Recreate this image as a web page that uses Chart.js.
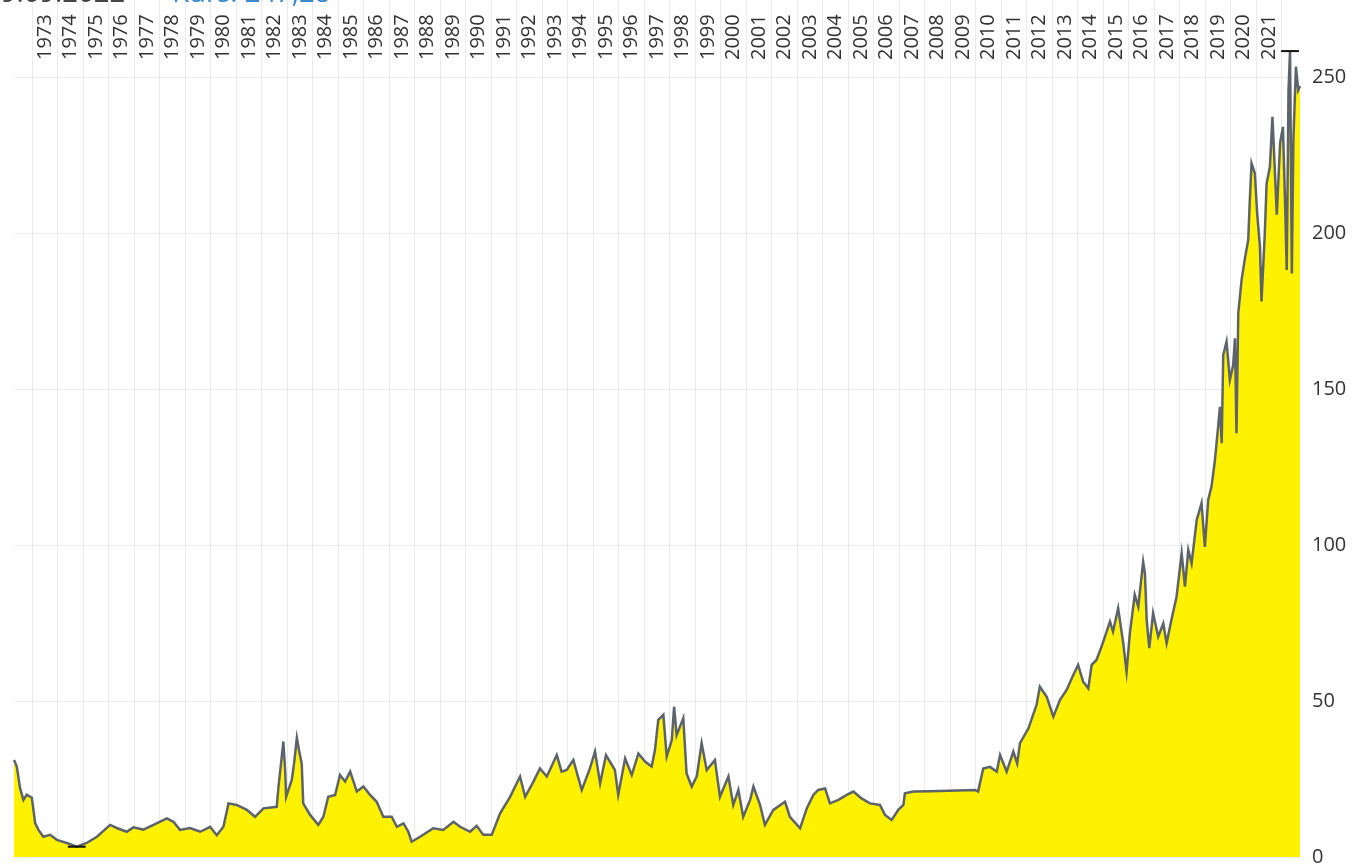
<!DOCTYPE html>
<html>
<head>
<meta charset="utf-8">
<script src="https://cdn.jsdelivr.net/npm/chart.js@4.4.0/dist/chart.umd.min.js"></script>
<style>
  html, body { margin: 0; padding: 0; background: #fff; overflow: hidden; }
  #wrap { position: relative; width: 1353px; height: 864px; overflow: hidden; }
  canvas { display: block; }
  #head { position: absolute; left: -15px; top: -22px; font: 27.5px/28px "Open Sans", sans-serif; color: #444; white-space: nowrap; }
  #head span { color: #3b8ad0; margin-left: 47px; }
</style>
</head>
<body>
<div id="wrap">
  <canvas id="chart" width="1353" height="864"></canvas>
  <div id="head">19.09.2022<span>Kurs: 247,28</span></div>
</div>
<script>
// decimal years
const years = [
  1972.29, 1972.40, 1972.53, 1972.66, 1972.79, 1972.99, 1973.12, 1973.25, 1973.44, 1973.71,
  1973.97, 1974.36, 1974.75, 1975.14, 1975.54, 1976.06, 1976.32, 1976.71, 1976.97, 1977.36,
  1977.76, 1978.28, 1978.54, 1978.80, 1979.19, 1979.59, 1979.98, 1980.24, 1980.50, 1980.70,
  1981.02, 1981.42, 1981.74, 1982.07, 1982.59, 1982.66, 1982.76, 1982.85, 1982.92, 1982.96,
  1983.18, 1983.27, 1983.38, 1983.47, 1983.57, 1983.63, 1983.90, 1984.22, 1984.42, 1984.61,
  1984.88, 1985.07, 1985.27, 1985.47, 1985.73, 1985.99, 1986.25, 1986.51, 1986.77, 1987.10,
  1987.30, 1987.56, 1987.75, 1987.88, 1988.21, 1988.73, 1989.12, 1989.52, 1989.78, 1990.17,
  1990.43, 1990.69, 1991.02, 1991.35, 1991.74, 1992.13, 1992.33, 1992.65, 1992.91, 1993.18,
  1993.57, 1993.76, 1993.96, 1994.22, 1994.55, 1994.87, 1995.07, 1995.27, 1995.50, 1995.85,
  1995.98, 1996.25, 1996.51, 1996.77, 1997.03, 1997.29, 1997.42, 1997.55, 1997.75, 1997.88,
  1998.08, 1998.17, 1998.27, 1998.53, 1998.66, 1998.86, 1999.06, 1999.25, 1999.45, 1999.77,
  1999.97, 2000.30, 2000.49, 2000.69, 2000.88, 2001.15, 2001.28, 2001.54, 2001.73, 2002.06,
  2002.52, 2002.71, 2003.11, 2003.37, 2003.63, 2003.82, 2004.09, 2004.28, 2004.61, 2004.94,
  2005.20, 2005.52, 2005.85, 2006.24, 2006.44, 2006.70, 2006.96, 2007.16, 2007.22, 2007.55,
  2008.20, 2009.97, 2010.09, 2010.29, 2010.55, 2010.82, 2010.95, 2011.21, 2011.47, 2011.62,
  2011.73, 2012.06, 2012.38, 2012.51, 2012.78, 2013.04, 2013.30, 2013.56, 2013.82, 2014.01,
  2014.21, 2014.41, 2014.54, 2014.73, 2014.93, 2015.26, 2015.38, 2015.58, 2015.78, 2015.91,
  2016.04, 2016.23, 2016.37, 2016.56, 2016.63, 2016.70, 2016.80, 2016.95, 2017.15, 2017.35,
  2017.48, 2017.68, 2017.87, 2018.07, 2018.20, 2018.33, 2018.46, 2018.66, 2018.85, 2018.98,
  2019.11, 2019.24, 2019.37, 2019.50, 2019.57, 2019.64, 2019.70, 2019.83, 2019.96, 2020.09,
  2020.16, 2020.22, 2020.29, 2020.42, 2020.55, 2020.68, 2020.74, 2020.81, 2020.94, 2021.03,
  2021.14, 2021.20, 2021.33, 2021.40, 2021.53, 2021.63, 2021.74, 2021.80, 2021.93, 2022.04,
  2022.13, 2022.19, 2022.26, 2022.32, 2022.39, 2022.45, 2022.55, 2022.64, 2022.71
];

const prices = [
  31.1, 29.0, 22.0, 18.3, 20.0, 19.0, 10.9, 8.7, 6.5, 7.1,
  5.5, 4.5, 3.3, 4.5, 6.5, 10.3, 9.3, 8.1, 9.5, 8.8,
  10.3, 12.4, 11.3, 8.7, 9.3, 8.1, 9.7, 7.0, 9.7, 17.2,
  16.7, 15.1, 12.9, 15.6, 16.1, 22.6, 30.0, 37.0, 28.0, 19.3,
  24.7, 30.0, 38.2, 34.0, 30.0, 17.2, 13.5, 10.3, 12.9, 19.3,
  19.9, 26.3, 24.2, 27.4, 21.0, 22.6, 19.9, 17.7, 12.9, 12.9,
  9.7, 10.8, 8.1, 4.9, 6.5, 9.2, 8.7, 11.3, 9.7, 8.1,
  10.0, 7.1, 7.1, 14.0, 19.3, 25.8, 19.3, 24.1, 28.4, 25.8,
  32.7, 27.4, 27.9, 31.1, 21.5, 28.4, 33.8, 23.6, 32.7, 27.9,
  19.9, 31.6, 26.3, 33.2, 30.6, 29.0, 34.3, 44.0, 45.6, 32.2,
  37.5, 48.2, 39.1, 44.5, 26.8, 22.6, 25.9, 36.5, 27.9, 31.1,
  19.3, 25.8, 16.7, 21.5, 12.9, 18.3, 22.6, 16.7, 10.3, 15.1,
  17.7, 12.9, 9.2, 15.6, 19.9, 21.5, 22.0, 17.2, 18.3, 19.9,
  21.0, 18.8, 17.2, 16.7, 13.5, 11.9, 15.1, 16.7, 20.4, 21.0,
  21.1, 21.5, 21.0, 28.4, 28.9, 27.4, 32.7, 27.4, 33.8, 30.0,
  36.5, 41.2, 48.8, 54.6, 51.4, 45.0, 50.4, 53.6, 58.4, 61.6,
  56.2, 54.1, 61.6, 63.2, 67.5, 75.5, 72.3, 79.8, 68.6, 59.4,
  71.8, 84.1, 80.3, 94.7, 91.0, 76.0, 67.0, 78.2, 70.7, 74.9,
  68.6, 76.5, 83.5, 97.4, 86.7, 98.5, 94.2, 108.1, 113.5, 99.5,
  114.5, 118.8, 127.0, 138.0, 144.4, 132.7, 161.0, 165.3, 153.0, 157.8,
  166.4, 135.9, 174.5, 185.1, 192.0, 197.9, 210.2, 222.5, 219.3, 206.5,
  195.8, 178.2, 200.0, 216.0, 221.4, 237.4, 217.2, 206.0, 229.0, 234.2,
  208.6, 188.3, 246.0, 258.5, 187.2, 230.0, 253.5, 246.0, 247.3
];

const tickYears = [];
for (let yr = 1973; yr <= 2021; yr++) tickYears.push(yr);
const yTicks = [0, 50, 100, 150, 200, 250];

const font = { family: 'Open Sans', size: 20 };

// short black bars on the lowest and highest price
const extremeMarks = {
  id: 'extremeMarks',
  afterDatasetsDraw(chart) {
    const { ctx, scales: { x, y } } = chart;
    const lo = prices.indexOf(Math.min(...prices));
    const hi = prices.indexOf(Math.max(...prices));
    ctx.save();
    ctx.strokeStyle = '#111';
    ctx.lineWidth = 2;
    [lo, hi].forEach(i => {
      const py = y.getPixelForValue(prices[i]);
      ctx.beginPath();
      ctx.moveTo(x.getPixelForValue(years[i] - 0.35), py);
      ctx.lineTo(x.getPixelForValue(years[i] + 0.35), py);
      ctx.stroke();
    });
    ctx.restore();
  }
};

new Chart(document.getElementById('chart'), {
  type: 'line',
  data: {
    datasets: [{
      data: years.map((yr, i) => ({ x: yr, y: prices[i] })),
      borderColor: '#5c636b',
      borderWidth: 2.5,
      backgroundColor: '#fff200',
      fill: 'origin',
      pointRadius: 0,
      tension: 0,
      clip: false
    }]
  },
  options: {
    responsive: false,
    animation: false,
    layout: { padding: { left: 14, right: 0, top: 0, bottom: 7 } },
    plugins: { legend: { display: false }, tooltip: { enabled: false } },
    scales: {
      x: {
        type: 'linear',
        position: 'top',
        min: years[0],
        max: years[years.length - 1],
        z: 1,
        afterBuildTicks: s => { s.ticks = tickYears.map(v => ({ value: v + 0.5 })); },
        ticks: {
          autoSkip: false,
          minRotation: 90,
          maxRotation: 90,
          padding: -60,
          labelOffset: 24,
          font: font,
          color: '#333',
          callback: v => String(Math.floor(v))
        },
        grid: { offset: true, color: 'rgba(0,0,0,0.08)', tickLength: 62 },
        border: { display: false },
        afterFit: s => { s.height = 62; s.paddingLeft = 0; s.paddingRight = 0; }
      },
      y: {
        position: 'right',
        min: 0,
        max: 255,
        z: 1,
        afterBuildTicks: s => { s.ticks = yTicks.map(v => ({ value: v })); },
        ticks: { padding: 12, font: font, color: '#333' },
        grid: { color: 'rgba(0,0,0,0.07)', drawTicks: false },
        border: { display: false },
        afterFit: s => { s.width = 53; s.paddingTop = 0; s.paddingBottom = 0; }
      }
    }
  },
  plugins: [extremeMarks]
});
</script>
</body>
</html>
